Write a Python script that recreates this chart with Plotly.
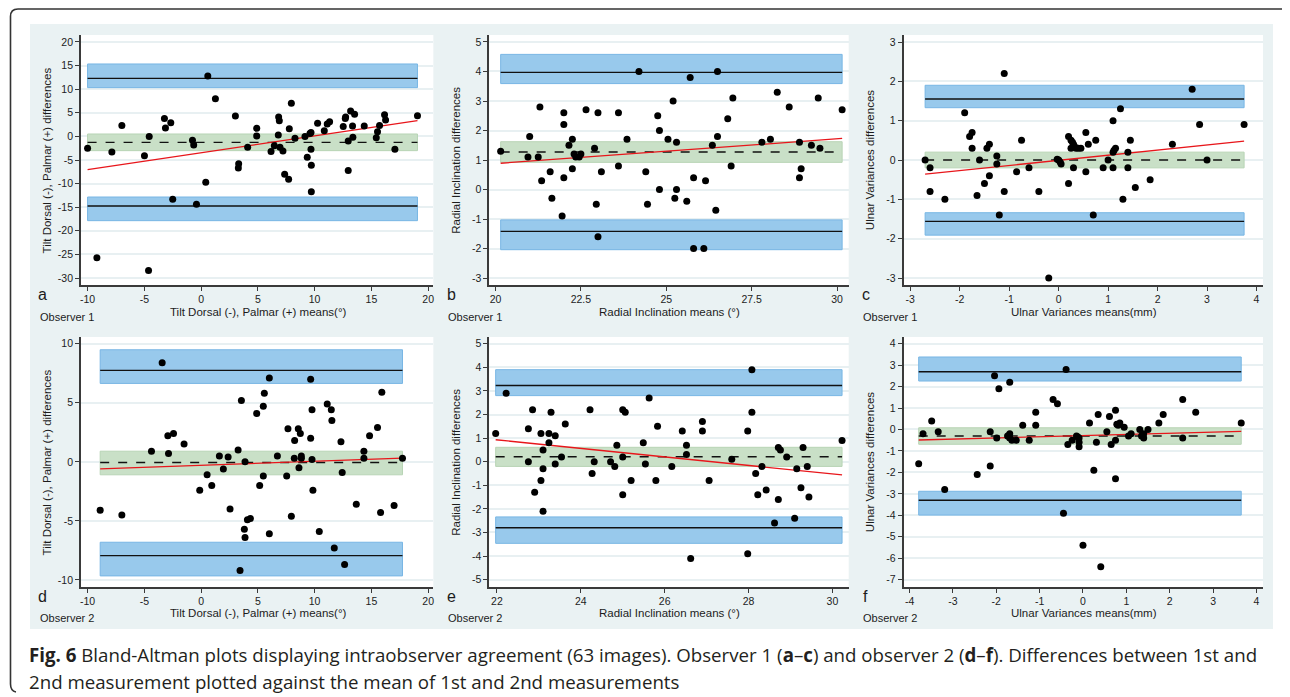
import plotly.graph_objects as go

# ---------------- data ----------------
# Panel a: Tilt, observer 1
a_mean = [-10.0, -9.18, -7.86, -6.98, -4.99, -4.57, -4.63, -3.23, -3.14, -2.67, -2.5, -0.76, -0.65, -0.41,
          0.41, 0.59, 1.26, 3.02, 3.31, 3.28, 4.1, 4.9, 4.9, 6.16, 6.45, 6.83, 6.89, 6.8, 6.95, 7.21, 7.36,
          7.71, 7.77, 7.95, 8.27, 9.15, 9.35, 9.59, 9.68, 9.68, 9.71, 9.71, 10.26, 10.85, 11.11, 11.32,
          12.52, 12.7, 12.73, 12.96, 12.96, 13.17, 13.34, 13.37, 13.52, 14.37, 15.43, 15.54, 15.72, 16.16,
          16.25, 17.07, 19.06]
a_diff = [-2.5, -25.7, -3.3, 2.3, -4.1, 0.0, -28.4, 3.8, 1.8, 2.9, -13.3, -0.8, -1.8, -14.4,
          -9.7, 12.8, 8.0, 4.3, -5.8, -6.7, -2.3, 1.7, 0.1, -3.2, -2.0, 4.1, 3.3, 0.3, -2.3, -3.1, -8.0,
          -9.1, 1.6, 7.0, -0.4, 0.0, -4.4, 0.6, 0.8, -2.7, -6.1, -11.7, 2.8, 1.2, 2.6, 3.1,
          2.1, 3.8, 4.1, -1.0, -7.2, 5.4, 2.2, -0.2, 4.7, 2.2, -0.3, 1.0, 2.3, 4.6,
          3.5, -2.7, 4.4]
a_limits = [12.3, -1.26, -14.75]               # upper LoA, mean difference, lower LoA
a_limit_ci = [[10.33, 15.34], [-3.02, 0.51], [-17.85, -12.84]]
a_fit = [-7.05, 3.33]                          # regression at min / max mean
a_xticks = [-10, -5, 0, 5, 10, 15, 20]
a_yticks = [20, 15, 10, 5, 0, -5, -10, -15, -20, -25, -30]

# Panel b: Radial inclination, observer 1
b_mean = [20.15, 20.95, 21.0, 21.25, 21.3, 21.35, 21.6, 21.65, 21.95, 22.0, 22.0, 22.0, 22.15, 22.25,
          22.25, 22.3, 22.35, 22.45, 22.5, 22.65, 22.9, 22.95, 23.0, 23.0, 23.1, 23.6, 23.6, 23.85,
          24.2, 24.4, 24.45, 24.75, 24.8, 24.8, 25.05, 25.2, 25.25, 25.3, 25.3, 25.6, 25.7, 25.8, 25.8,
          26.1, 26.15, 26.35, 26.45, 26.5, 26.5, 26.8, 26.9, 26.95, 27.8, 28.05, 28.25, 28.6, 28.9,
          28.9, 28.95, 29.25, 29.45, 29.5, 30.15]
b_diff = [1.3, 1.1, 1.8, 1.1, 2.8, 0.3, 0.6, -0.3, -0.9, 2.6, 2.2, 0.4, 1.5, 1.7,
          0.7, 1.2, 1.1, 1.1, 1.2, 2.7, 1.4, -0.5, 2.6, -1.6, 0.6, 2.6, 0.8, 1.7,
          4.0, 0.6, -0.5, 2.5, 2.0, 0.0, 1.7, 3.0, -0.3, 1.6, 0.0, -0.4, 3.8, 0.4, -2.0,
          -2.0, 0.3, 1.5, -0.7, 1.8, 4.0, 2.4, 0.8, 3.1, 1.6, 1.7, 3.3, 2.8, 1.6,
          0.4, 0.7, 1.5, 3.1, 1.4, 2.7]
b_limits = [3.97, 1.27, -1.42]
b_limit_ci = [[3.59, 4.58], [0.92, 1.62], [-2.04, -1.03]]
b_fit = [0.89, 1.73]
b_xticks = [20, 22.5, 25, 27.5, 30]
b_yticks = [5, 4, 3, 2, 1, 0, -1, -2, -3]

# Panel c: Ulnar variance, observer 1
c_mean = [-2.7, -2.6, -2.6, -2.3, -1.9, -1.8, -1.75, -1.75, -1.65, -1.6, -1.5, -1.45, -1.4, -1.4,
          -1.25, -1.25, -1.2, -1.1, -1.1, -0.85, -0.75, -0.6, -0.4, -0.2, 0.0, 0.03, 0.05, 0.2, 0.2,
          0.25, 0.25, 0.3, 0.3, 0.35, 0.45, 0.55, 0.55, 0.6, 0.7, 0.75, 0.9, 1.0, 1.1, 1.1, 1.1, 1.15,
          1.25, 1.3, 1.4, 1.4, 1.45, 1.55, 1.85, 2.3, 2.7, 2.85, 3.0, 3.75,
          0.28, 0.32, 0.4, 1.12, -0.03]
c_diff = [0.0, -0.2, -0.8, -1.0, 1.2, 0.6, 0.7, 0.3, -0.9, 0.0, -0.6, 0.3, 0.4, -0.4,
          0.1, -0.1, -1.4, 2.2, -0.8, -0.3, 0.5, -0.2, -0.8, -3.0, 0.0, -0.05, -0.1, 0.6, -0.6,
          0.5, 0.3, 0.4, -0.2, 0.3, 0.3, 0.7, -0.3, 0.4, -1.4, 0.5, -0.2, 0.0, 1.0, 0.2, -0.2, 0.3,
          1.3, -1.0, 0.2, -0.2, 0.5, -0.7, -0.5, 0.4, 1.8, 0.9, 0.0, 0.9,
          0.45, 0.35, 0.3, 0.25, 0.02]
c_limits = [1.55, 0.0, -1.56]
c_limit_ci = [[1.33, 1.9], [-0.2, 0.2], [-1.91, -1.34]]
c_fit = [-0.36, 0.48]
c_xticks = [-3, -2, -1, 0, 1, 2, 3, 4]
c_yticks = [3, 2, 1, 0, -1, -2, -3]

# Panel d: Tilt, observer 2
d_mean = [-8.89, -6.98, -4.37, -3.43, -2.93, -2.87, -2.43, -1.5, -0.12, 0.53, 0.94, 1.61, 1.96, 2.38,
          2.55, 3.26, 3.43, 3.55, 3.81, 3.87, 3.87, 4.08, 4.34, 4.9, 5.16, 5.48, 5.48, 5.57, 6.01, 6.01,
          6.72, 7.54, 7.65, 7.95, 8.21, 8.24, 8.56, 8.62, 8.74, 8.83, 8.83, 9.65, 9.65, 9.77, 9.77, 9.85,
          10.41, 11.11, 11.47, 11.52, 11.73, 12.32, 12.43, 12.64, 13.67, 14.34, 14.34, 14.84, 15.54,
          15.81, 15.92, 17.0, 17.74]
d_diff = [-4.1, -4.5, 0.9, 8.4, 2.2, 0.7, 2.4, 1.5, -2.4, -1.1, -2.0, 0.5, -0.6, 0.4,
          -4.0, 1.0, -9.2, 5.2, -5.7, -6.4, 0.0, -4.9, -4.8, 4.1, -2.0, 4.7, -1.2, 5.8, 7.1, -6.1,
          0.5, -1.2, 2.8, -4.6, 0.3, 1.8, 2.8, -0.5, 2.4, 0.3, 0.5, 2.0, 7.0, 4.4, 0.2, -2.4,
          -5.9, 4.9, 4.4, 3.5, -7.3, 1.7, -0.9, -8.7, -3.6, 0.9, 0.3, 2.2, 2.9,
          -4.3, 5.9, -3.7, 0.3]
d_limits = [7.74, -0.06, -7.94]
d_limit_ci = [[6.64, 9.49], [-1.1, 0.9], [-9.66, -6.81]]
d_fit = [-0.6, 0.31]
d_xticks = [-10, -5, 0, 5, 10, 15, 20]
d_yticks = [10, 5, 0, -5, -10]

# Panel e: Radial inclination, observer 2
e_mean = [21.97, 22.22, 22.75, 22.75, 22.85, 22.9, 23.05, 23.05, 23.1, 23.1, 23.1, 23.24, 23.24, 23.29,
          23.39, 23.39, 23.54, 23.63, 24.22, 24.27, 24.32, 24.71, 24.81, 24.86, 25.0, 25.06, 25.0, 25.0,
          25.2, 25.49, 25.54, 25.63, 25.79, 25.83, 26.17, 26.42, 26.52, 26.52, 26.62, 26.9, 26.9, 27.06,
          27.6, 27.98, 27.98, 28.08, 28.08, 28.17, 28.22, 28.32, 28.42, 28.62, 28.71, 28.71, 28.76,
          28.91, 29.1, 29.15, 29.25, 29.3, 29.4, 29.44, 30.23]
e_diff = [1.2, 2.9, 1.4, 0.0, 2.2, -1.3, 1.2, -0.8, 0.5, -0.3, -2.1, 1.2, 0.8, 2.1,
          1.1, -0.1, 0.2, 1.6, 2.2, -0.5, 0.0, 0.0, -0.2, 0.7, 2.2, 2.1, 0.2, -1.4,
          -0.8, 0.8, -0.1, 2.7, -0.8, 1.5, -0.2, 1.3, 0.7, 0.3, -4.1, 1.7, 1.3, -0.8,
          0.1, 1.3, -3.9, 3.9, 2.1, -0.5, -1.4, -0.2, -1.2, -2.6, 0.6, -1.6, 0.5,
          0.2, -2.4, -0.3, -1.1, 0.6, -0.2, -1.5, 0.9]
e_limits = [3.23, 0.21, -2.8]
e_limit_ci = [[2.8, 3.9], [-0.2, 0.61], [-3.46, -2.34]]
e_fit = [0.93, -0.56]
e_xticks = [22, 24, 26, 28, 30]
e_yticks = [5, 4, 3, 2, 1, 0, -1, -2, -3, -4, -5]

# Panel f: Ulnar variance, observer 2
f_mean = [-3.79, -3.69, -3.49, -3.34, -3.19, -2.44, -2.14, -2.14, -2.04, -1.99, -1.94, -1.74, -1.69,
          -1.69, -1.69, -1.64, -1.54, -1.39, -1.24, -1.09, -1.09, -0.69, -0.59, -0.45, -0.39, -0.35,
          -0.25, -0.15, -0.09, -0.09, -0.09, 0.0, 0.15, 0.25, 0.31, 0.35, 0.41, 0.55, 0.61, 0.65, 0.75,
          0.75, 0.75, 0.81, 0.85, 0.95, 1.05, 1.11, 1.31, 1.35, 1.4, 1.4, 1.5, 1.75, 1.85, 2.3, 2.3,
          2.6, 3.65, -1.72, 0.78, -0.12, 1.38]
f_diff = [-1.6, -0.2, 0.4, -0.1, -2.8, -2.1, -0.1, -1.7, 2.5, -0.4, 1.9, -0.3, -0.2,
          2.2, -0.4, -0.5, -0.5, 0.2, -0.5, 0.8, 0.2, 1.4, 1.2, -3.9, 2.8, -0.7,
          -0.5, -0.3, -0.4, -0.6, -0.8, -5.4, 0.3, -1.9, -0.6, 0.7, -6.4, -0.1, 0.6, -0.7, 0.9,
          -0.5, -2.3, 0.2, 0.3, 0.1, -0.3, -0.2, 0.0, -0.3, -0.2, -0.4, 0.0, 0.3, 0.7, 1.4, -0.4,
          0.8, 0.3, -0.3, 0.25, -0.35, -0.25]
f_limits = [2.69, -0.3, -3.3]
f_limit_ci = [[2.26, 3.38], [-0.69, 0.08], [-3.99, -2.88]]
f_fit = [-0.49, -0.09]
f_xticks = [-4, -3, -2, -1, 0, 1, 2, 3, 4]
f_yticks = [4, 3, 2, 1, 0, -1, -2, -3, -4, -5, -6, -7]

tilt_x_title = "Tilt Dorsal (-), Palmar (+) means(°)"
tilt_y_title = "Tilt Dorsal (-), Palmar (+) differences"
radial_x_title = "Radial Inclination means (°)"
radial_y_title = "Radial Inclination differences"
ulnar_x_title = "Ulnar Variances means(mm)"
ulnar_y_title = "Ulnar Variances differences"
panel_letters = ["a", "b", "c", "d", "e", "f"]
observer_labels = ["Observer 1", "Observer 1", "Observer 1", "Observer 2", "Observer 2", "Observer 2"]

# ---------------- layout geometry (reference-image pixels) ----------------
# The page body has an 8px margin, so the figure is 8px smaller and every
# reference pixel position is shifted by 8px.
OFF = 8
W, H = 1290 - OFF, 697 - OFF


def px(x):
    return (x - OFF) / W


def py(y):
    return 1 - (y - OFF) / H


col_px = [(80, 433), (489, 849), (904, 1264)]
row_px = [(35, 285), (337, 587)]

panels = [
    dict(m=a_mean, d=a_diff, lim=a_limits, ci=a_limit_ci, fit=a_fit, xt=a_xticks, yt=a_yticks,
         xr=[-10.589, 20.457], yr=[-31.48, 21.48], xtitle=tilt_x_title, ytitle=tilt_y_title),
    dict(m=b_mean, d=b_diff, lim=b_limits, ci=b_limit_ci, fit=b_fit, xt=b_xticks, yt=b_yticks,
         xr=[19.816, 30.342], yr=[-3.237, 5.237], xtitle=radial_x_title, ytitle=radial_y_title),
    dict(m=c_mean, d=c_diff, lim=c_limits, ci=c_limit_ci, fit=c_fit, xt=c_xticks, yt=c_yticks,
         xr=[-3.135, 4.133], yr=[-3.178, 3.178], xtitle=ulnar_x_title, ytitle=ulnar_y_title),
    dict(m=d_mean, d=d_diff, lim=d_limits, ci=d_limit_ci, fit=d_fit, xt=d_xticks, yt=d_yticks,
         xr=[-10.589, 20.457], yr=[-10.6, 10.57], xtitle=tilt_x_title, ytitle=tilt_y_title),
    dict(m=e_mean, d=e_diff, lim=e_limits, ci=e_limit_ci, fit=e_fit, xt=e_xticks, yt=e_yticks,
         xr=[21.817, 30.388], yr=[-5.31, 5.284], xtitle=radial_x_title, ytitle=radial_y_title),
    dict(m=f_mean, d=f_diff, lim=f_limits, ci=f_limit_ci, fit=f_fit, xt=f_xticks, yt=f_yticks,
         xr=[-4.138, 4.153], yr=[-7.343, 4.312], xtitle=ulnar_x_title, ytitle=ulnar_y_title),
]

BLUE_FILL = "rgb(152,201,236)"
BLUE_EDGE = "rgb(120,182,228)"
GREEN_FILL = "rgb(201,224,199)"
GREEN_EDGE = "rgb(184,212,181)"
AXIS_COL = "#3a3a3a"
TXT_COL = "#1c1c1c"
FONT = "Liberation Sans, Arial, sans-serif"
BG = "#eaf2f3"

fig = go.Figure()
shapes = []
annotations = []

for i, p in enumerate(panels):
    n = i + 1
    xa = "x" if n == 1 else f"x{n}"
    ya = "y" if n == 1 else f"y{n}"
    r, c = divmod(i, 3)
    (x0p, x1p), (y0p, y1p) = col_px[c], row_px[r]
    xmin, xmax = min(p["m"]), max(p["m"])

    # dotted zero reference line across whole plot
    shapes.append(dict(type="line", xref=f"{xa} domain", yref=ya, x0=0, x1=1, y0=0, y1=0,
                       line=dict(color="#a8a8a8", width=1, dash="dot"), layer="below"))

    # confidence bands
    for k, (lo, hi) in enumerate(p["ci"]):
        fill, edge = (GREEN_FILL, GREEN_EDGE) if k == 1 else (BLUE_FILL, BLUE_EDGE)
        fig.add_trace(go.Scatter(x=[xmin, xmax, xmax, xmin, xmin], y=[lo, lo, hi, hi, lo],
                                 mode="lines", fill="toself", fillcolor=fill,
                                 line=dict(color=edge, width=1), xaxis=xa, yaxis=ya,
                                 hoverinfo="skip", showlegend=False))
    # limit lines
    for k, v in enumerate(p["lim"]):
        fig.add_trace(go.Scatter(x=[xmin, xmax], y=[v, v], mode="lines",
                                 line=dict(color="#111111", width=1.4, dash="dash" if k == 1 else "solid"),
                                 xaxis=xa, yaxis=ya, hoverinfo="skip", showlegend=False))
    # regression line
    fig.add_trace(go.Scatter(x=[xmin, xmax], y=p["fit"], mode="lines",
                             line=dict(color="#e8161b", width=1.3),
                             xaxis=xa, yaxis=ya, hoverinfo="skip", showlegend=False))
    # points
    fig.add_trace(go.Scatter(x=p["m"], y=p["d"], mode="markers",
                             marker=dict(color="black", size=7, line=dict(width=0)),
                             xaxis=xa, yaxis=ya, showlegend=False))

    axis_common = dict(showline=True, linecolor=AXIS_COL, linewidth=1.6, ticks="outside", ticklen=4,
                       tickwidth=1.1, tickcolor=AXIS_COL, zeroline=False,
                       tickfont=dict(family=FONT, size=10.5, color=TXT_COL))
    fig.update_layout(**{
        ("xaxis" if n == 1 else f"xaxis{n}"): dict(
            domain=[px(x0p), px(x1p)], anchor=ya, range=p["xr"], showgrid=False,
            tickvals=p["xt"], ticktext=[("%g" % t) for t in p["xt"]], **axis_common),
        ("yaxis" if n == 1 else f"yaxis{n}"): dict(
            domain=[py(y1p), py(y0p)], anchor=xa, range=p["yr"], showgrid=True,
            gridcolor="#e8f0f2", gridwidth=1.6,
            tickvals=p["yt"], ticktext=[("%g" % t) for t in p["yt"]], **axis_common),
    })

    # titles and labels
    xc = (x0p + x1p) / 2 + 1
    ty = 312 if r == 0 else 613
    annotations.append(dict(x=px(xc), y=py(ty), xref="paper", yref="paper", text=p["xtitle"],
                            showarrow=False, xanchor="center", yanchor="middle",
                            font=dict(family=FONT, size=11.5, color=TXT_COL)))
    annotations.append(dict(x=px(x0p - 33.5), y=py((y0p + y1p) / 2), xref="paper", yref="paper",
                            text=p["ytitle"], textangle=-90, showarrow=False,
                            xanchor="center", yanchor="middle",
                            font=dict(family=FONT, size=11.5, color=TXT_COL)))
    annotations.append(dict(x=px(x0p - 38), y=py(294 if r == 0 else 596), xref="paper", yref="paper",
                            text=panel_letters[i], showarrow=False, xanchor="center", yanchor="middle",
                            font=dict(family=FONT, size=16, color=TXT_COL)))
    annotations.append(dict(x=px(x0p - 43), y=py(317 if r == 0 else 618), xref="paper", yref="paper",
                            text=observer_labels[i], showarrow=False, xanchor="left", yanchor="middle",
                            font=dict(family=FONT, size=11, color=TXT_COL)))

# white areas around the grey chart background
for (x0, y0, x1, y1) in [(0, 0, 1300, 24), (0, 0, 29, 700), (1274, 0, 1300, 700), (0, 629, 1300, 700)]:
    shapes.append(dict(type="rect", xref="paper", yref="paper", x0=px(x0), x1=px(x1),
                       y0=py(y1), y1=py(y0), fillcolor="white", line=dict(width=0), layer="below"))

# outer rounded frame
frame = (f"M {px(1290)},{py(9)} L {px(17)},{py(9)} Q {px(9.5)},{py(9)} {px(9.5)},{py(16.5)} "
         f"L {px(9.5)},{py(684)} Q {px(9.5)},{py(691)} {px(15)},{py(692)}")
shapes.append(dict(type="path", xref="paper", yref="paper", path=frame,
                   line=dict(color="#333333", width=1.6), layer="above"))

caption_font = dict(family="Open Sans, sans-serif", size=18.7, color="#231f20")
annotations.append(dict(
    x=px(26), y=py(654), xref="paper", yref="paper", xanchor="left", yanchor="middle", showarrow=False,
    text=("<b>Fig. 6</b> Bland-Altman plots displaying intraobserver agreement (63 images). "
          "Observer 1 (<b>a</b>–<b>c</b>) and observer 2 (<b>d</b>–<b>f</b>). "
          "Differences between 1st and"),
    font=caption_font))
annotations.append(dict(
    x=px(26), y=py(681), xref="paper", yref="paper", xanchor="left", yanchor="middle", showarrow=False,
    text="2nd measurement plotted against the mean of 1st and 2nd measurements",
    font=caption_font))

fig.update_layout(width=W, height=H, margin=dict(l=0, r=0, t=0, b=0),
                  paper_bgcolor=BG, plot_bgcolor="white", showlegend=False,
                  shapes=shapes, annotations=annotations, font=dict(family=FONT))

fig.write_html("out.html")
